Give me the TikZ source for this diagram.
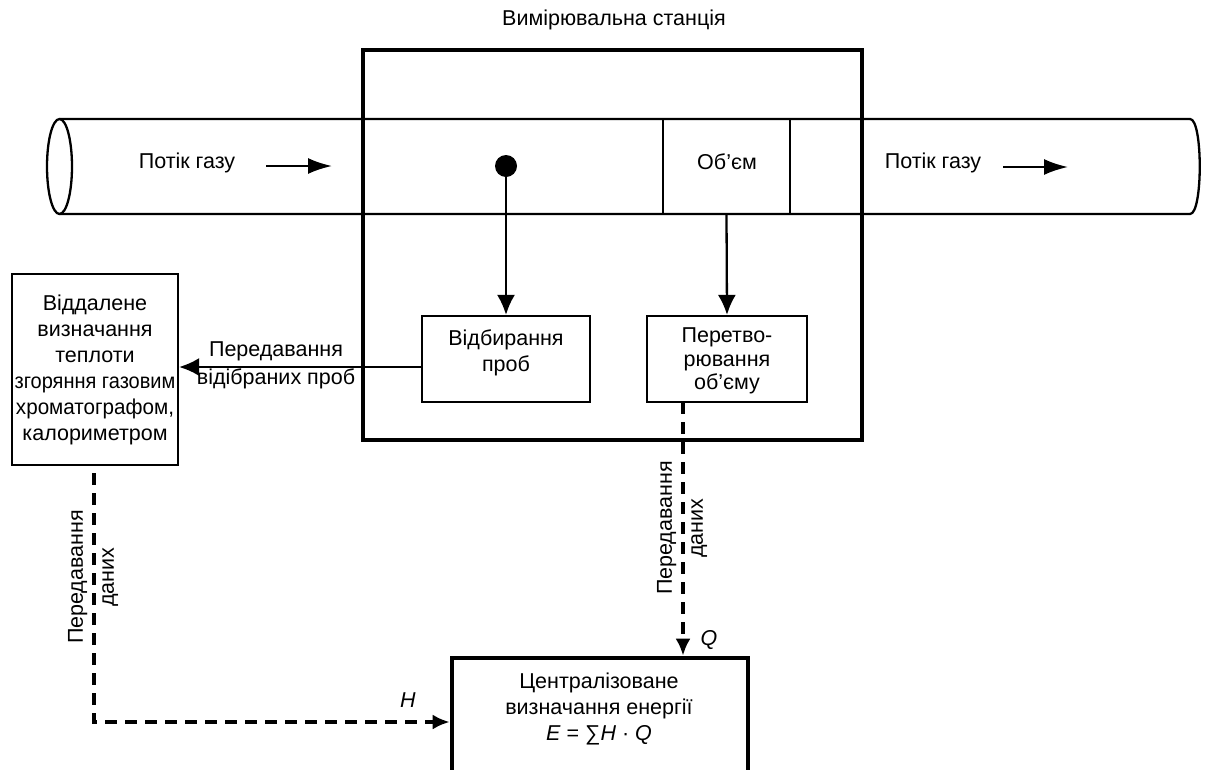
\documentclass[tikz,border=0pt]{standalone}
\usepackage{fontspec}
\setmainfont{Liberation Sans}
\usetikzlibrary{arrows.meta}
\begin{document}
\begin{tikzpicture}[x=1pt,y=-1pt,
  font=\fontsize{21.5}{26}\selectfont,
  thinbox/.style={draw, line width=2.2pt, inner sep=0pt, align=center},
  thickbox/.style={draw, line width=4.6pt, inner sep=0pt},
  pipeline/.style={line width=2.3pt},
  solidarrow/.style={line width=2.3pt, -{Latex[length=20pt,width=18pt]}},
  flowarrow/.style={line width=2.2pt, -{Latex[length=24pt,width=16pt]}},
  dasharrow/.style={line width=3.8pt, dash pattern=on 12pt off 8pt, -{Latex[length=17pt,width=15pt]}},
  lbl/.style={inner sep=0pt, align=center}
]
\clip (0,0) rectangle (1207,769);
% pipe
\draw[pipeline] (59.5,166.5) ellipse [x radius=12.5, y radius=47.5];
\draw[pipeline] (59.5,119) -- (1190,119) .. controls (1203,119) and (1203,214) .. (1190,214) -- (59.5,214);
% station
\node[thickbox, minimum width=499pt, minimum height=390pt] (station) at (612.5,245) {};
\node[lbl] (title) at (614,20) {Вимірювальна станція};
% volume box
\node[thinbox, minimum width=127pt, minimum height=95pt] (vol) at (726.5,166.5) {};
\node[lbl] (voltext) at (727,162) {Об’єм};
% flow texts
\node[lbl] (flowL) at (187,163) {Потік газу};
\coordinate (fl1) at (266,166);
\coordinate (fl2) at (332,166);
\draw[flowarrow] (fl1) -- (fl2);
\node[lbl] (flowR) at (933,163) {Потік газу};
\coordinate (fr1) at (1003,167);
\coordinate (fr2) at (1068,167);
\draw[flowarrow] (fr1) -- (fr2);
% sampling point
\node[circle, fill=black, inner sep=0pt, minimum size=22pt] (dot) at (506,166) {};
% inner boxes
\node[thinbox, minimum width=168pt, minimum height=86pt] (sample) at (506,359) {};
\node[lbl] (sampletext) at (506,353) {Відбирання\\проб};
\node[thinbox, minimum width=160pt, minimum height=86pt] (conv) at (727,359) {};
\node[lbl, font=\fontsize{21.5}{23.5}\selectfont] (convtext) at (727,361) {Перетво-\\рювання\\об’єму};
\draw[solidarrow] (dot.center) -- (sample.north);
\draw[solidarrow] (vol.south) -- (conv.north);
% remote box
\node[thinbox, minimum width=166pt, minimum height=191pt, font=\fontsize{21.5}{26}\selectfont] (remote) at (95,369.5)
  {Віддалене\\визначання\\теплоти\\\scalebox{0.93}[1]{згоряння газовим}\\\scalebox{0.96}[1]{хроматографом,}\\калориметром};
\coordinate (rin) at ([yshift=2.5pt]remote.east);
\draw[solidarrow] (sample.west |- rin) -- (rin);
\node[lbl, font=\fontsize{21.5}{28}\selectfont] (sendsamples) at (276,365) {Передавання\\відібраних проб};
% central box
\node[thickbox, minimum width=296pt, minimum height=128pt] (central) at (600,722) {};
\node[lbl, font=\fontsize{21.5}{26}\selectfont] (centraltext) at (599,709)
  {Централізоване\\визначання енергії\\\textit{E} = ∑\textit{H} · \textit{Q}};
% data lines
\coordinate (qstart) at (683,402);
\draw[dasharrow] (qstart) -- (qstart |- central.north);
\node[lbl, font=\itshape\fontsize{21.5}{25}\selectfont] (qlabel) at (709,640) {Q};
\node[lbl, rotate=90, font=\fontsize{21.5}{31}\selectfont] (qdata) at (682,528) {Передавання\\даних};
\coordinate (hstart) at (94,473);
\draw[dasharrow] (hstart) |- (central.west);
\node[lbl, font=\itshape\fontsize{21.5}{25}\selectfont] (hlabel) at (408,700) {H};
\node[lbl, rotate=90, font=\fontsize{21.5}{31}\selectfont] (hdata) at (93,577) {Передавання\\даних};
\end{tikzpicture}
\end{document}
